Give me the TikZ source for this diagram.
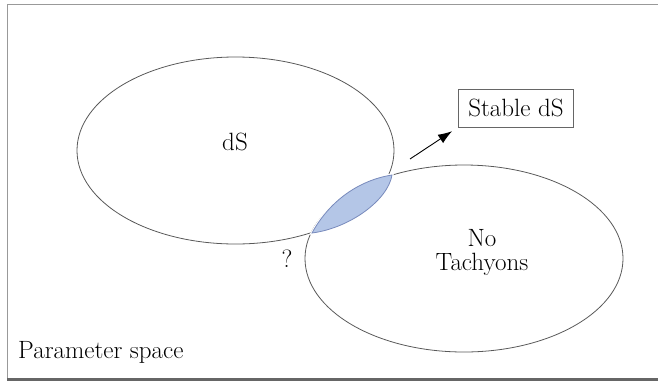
\documentclass[tikz,border=0pt]{standalone}
\usetikzlibrary{arrows.meta}
\pgfdeclarelayer{bg}
\pgfsetlayers{bg,main}
\definecolor{lensblue}{RGB}{180,198,231}
\definecolor{lensedge}{RGB}{120,138,188}
\tikzset{
    region/.style={draw=black!65, line width=0.8pt},
    bigtext/.style={font=\fontsize{25}{24}\selectfont, inner sep=0pt},
    pointer/.style={line width=0.9pt, -{Latex[length=14pt, width=10pt]}}
}

\begin{document}
\begin{tikzpicture}[x=1pt, y=-1pt]
    \useasboundingbox (0,0) rectangle (658,381);

    \begin{pgfonlayer}{bg}
        \draw[black!40, line width=1pt] (7,379) -- (7,4) -- (662,4);
        \draw[black!60, line width=2.5pt] (7,379.5) -- (662,379.5);
    \end{pgfonlayer}

    % the two regions
    \draw[region] (235.5,150.5) ellipse [x radius=158.5, y radius=93.5];
    \draw[region] (464,258.5) ellipse [x radius=159, y radius=93.5];

    % overlap
    \draw[white, line width=3pt]
        (312,233) .. controls (330,200) and (360,180) .. (392,175)
        .. controls (388,200) and (350,228) .. (312,233) -- cycle;
    \draw[lensedge, fill=lensblue, line width=0.8pt]
        (312,233) .. controls (330,200) and (360,180) .. (392,175)
        .. controls (388,200) and (350,228) .. (312,233) -- cycle;

    \node[bigtext] (ds) at (235,142) {dS};
    \node[bigtext, align=center] (notach) at (482,252) {No\\Tachyons};
    \node[bigtext] (qmark) at (287,259) {?};
    \node[bigtext, anchor=base west] (param) at (18,358) {Parameter space};
    \node[bigtext, draw=black!60, line width=0.8pt, inner xsep=10pt, inner ysep=10pt] (stable) at (516,108) {Stable dS};

    \coordinate (from) at (410,159);
    \draw[pointer, shorten >=7pt] (from) -- (stable.south west);
\end{tikzpicture}
\end{document}
